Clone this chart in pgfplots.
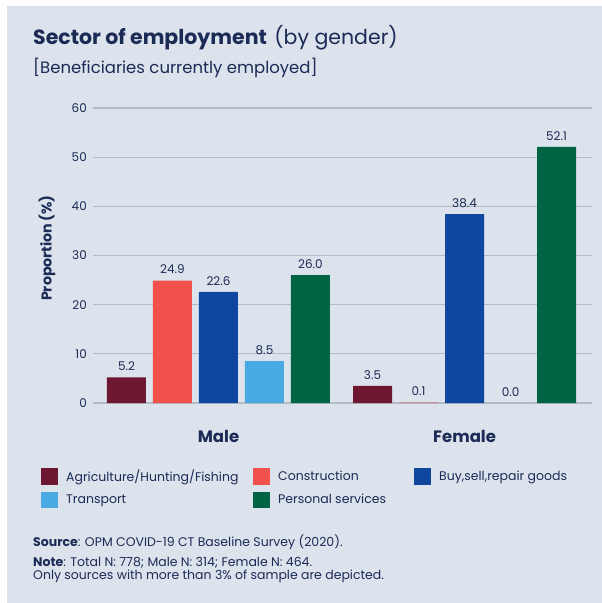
\documentclass[border=0pt]{standalone}
\usepackage{fontspec}
\setmainfont{Poppins}
\usepackage{pgfplots}
\pgfplotsset{compat=1.18}
\definecolor{bg}{HTML}{DCE3EC}
\definecolor{navy}{HTML}{1C2A56}
\definecolor{agr}{HTML}{6E1730}
\definecolor{con}{HTML}{F2504B}
\definecolor{buy}{HTML}{0F46A0}
\definecolor{tra}{HTML}{49A9E2}
\definecolor{per}{HTML}{006444}
\definecolor{gridc}{HTML}{B3BBC5}
\begin{document}
\begin{tikzpicture}[x=1pt,y=1pt]
\fill[white] (0,0) rectangle (602,-603);
\fill[bg] (7,-6) rectangle (602,-603);
\node[anchor=base west, text=navy, font=\fontsize{20.5}{24}\selectfont, inner sep=0] at (33,-44) {\textbf{Sector of employment}\hspace{2pt} (by gender)};
\node[anchor=base west, text=navy, font=\fontsize{16.5}{20}\selectfont, inner sep=0] at (33,-73) {[Beneficiaries currently employed]};
\node[anchor=base west, text=navy, font=\fontsize{12.5}{15}\selectfont, inner sep=0] at (33,-546.5) {\textbf{Source}: OPM COVID-19 CT Baseline Survey (2020).};
\node[anchor=base west, text=navy, font=\fontsize{12.5}{15}\selectfont, inner sep=0] at (33,-566.5) {\textbf{Note}: Total N: 778; Male N: 314; Female N: 464.};
\node[anchor=base west, text=navy, font=\fontsize{12.5}{15}\selectfont, inner sep=0] at (33,-579.5) {Only sources with more than 3\% of sample are depicted.};
\begin{axis}[
  at={(93pt,-403pt)}, anchor=south west,
  scale only axis, width=499pt, height=295pt,
  xmin=-0.51, xmax=1.518, ymin=0, ymax=60,
  ytick={0,10,...,60}, xtick={0,1}, xticklabels={Male,Female},
  axis line style={draw=none}, tick style={draw=none},
  ymajorgrids, grid style={gridc, line width=1.2pt},
  ybar=7pt, bar width=39pt,
  /pgf/number format/assume math mode=true,
  yticklabel style={font=\fontsize{12}{14}\selectfont, text=navy, anchor=east, inner sep=0pt, xshift=-6pt},
  xticklabel style={font=\fontsize{16.5}{18}\selectfont\bfseries, text=navy, anchor=base, inner sep=0pt, yshift=-35pt},
  every axis y label/.style={at={(axis description cs:-0.0922,0.525)}, anchor=center, rotate=90},
  ylabel={\textbf{Proportion\,(\%)}},
  ylabel style={font=\fontsize{14.2}{17}\selectfont, text=navy},
  nodes near coords,
  every node near coord/.append style={font=\fontsize{12}{14}\selectfont, text=navy, anchor=south, yshift=3pt,
     /pgf/number format/.cd, fixed, fixed zerofill, precision=1, assume math mode=true},
  legend columns=3,
  legend style={at={(axis description cs:-0.1042,-0.2203)}, anchor=north west, draw=none, fill=none,
     inner sep=0pt, column sep=0pt, row sep=7pt, nodes={inner sep=0pt, text=navy, font=\fontsize{12.5}{15}\selectfont}},
  legend cell align=left,
  legend image code/.code={\draw[#1, draw=none] (0pt,-8.25pt) rectangle (17pt,8.25pt); \path (25pt,0pt);},
  clip=false,
]
\addplot[fill=agr, draw=none] coordinates {(0,5.2) (1,3.5)};
\addlegendentry{\makebox[187pt][l]{Agriculture/Hunting/Fishing}}
\addplot[fill=con, draw=none] coordinates {(0,24.9) (1,0.1)};
\addlegendentry{\makebox[136pt][l]{Construction}}
\addplot[fill=buy, draw=none] coordinates {(0,22.6) (1,38.4)};
\addlegendentry{Buy,sell,repair goods}
\addplot[fill=tra, draw=none] coordinates {(0,8.5) (1,0.0)};
\addlegendentry{\makebox[187pt][l]{Transport}}
\addplot[fill=per, draw=none] coordinates {(0,26.0) (1,52.1)};
\addlegendentry{\makebox[136pt][l]{Personal services}}
\end{axis}
\end{tikzpicture}
\end{document}
